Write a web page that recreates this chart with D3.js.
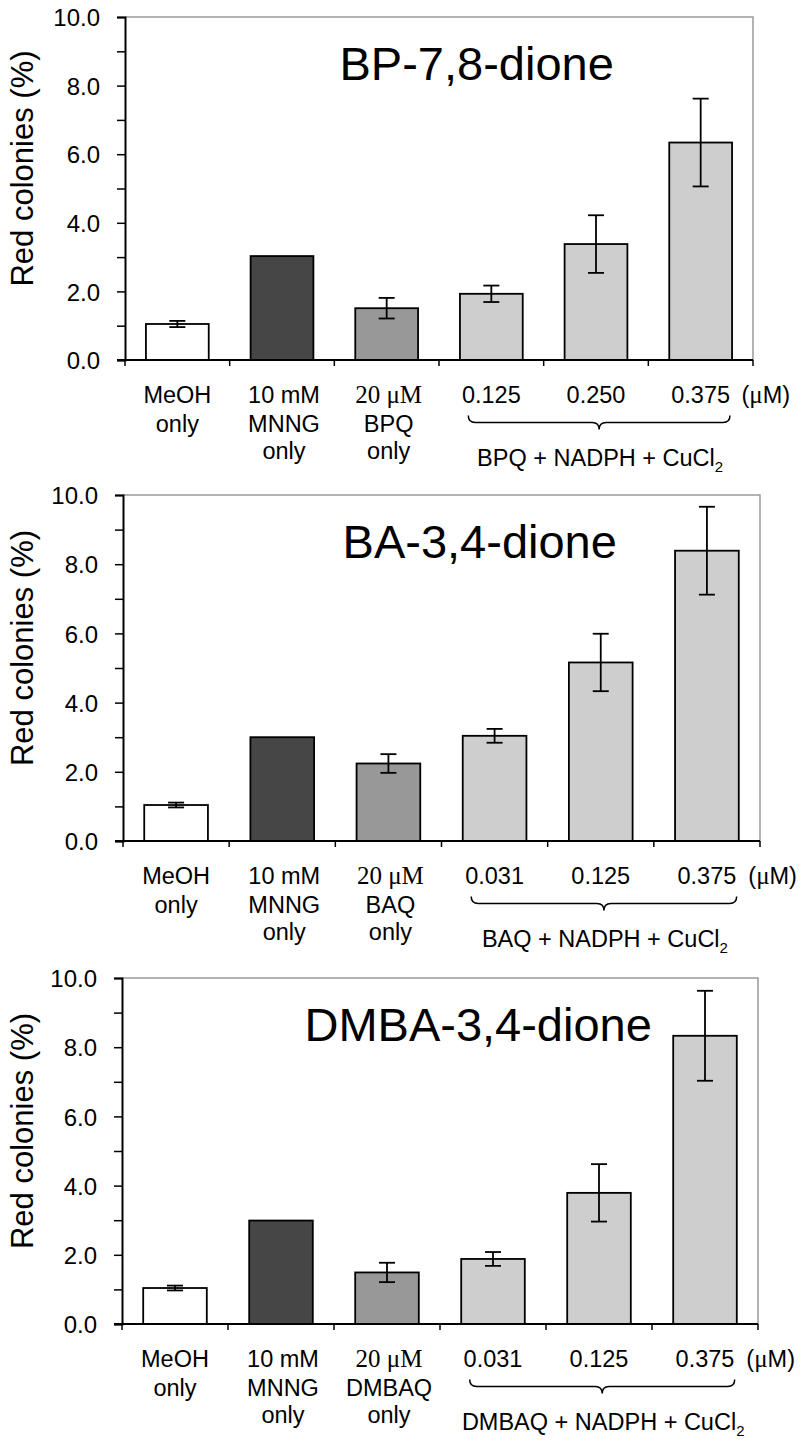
<!DOCTYPE html>
<html>
<head>
<meta charset="utf-8">
<script src="https://cdn.jsdelivr.net/npm/d3@7"></script>
<style>
  html, body { margin: 0; padding: 0; background: #fff; }
  svg { display: block; }
</style>
</head>
<body>
<svg id="chart" width="800" height="1446"></svg>
<script>
// ---------------- data ----------------
const panelTitles = ["BP-7,8-dione", "BA-3,4-dione", "DMBA-3,4-dione"];
const compounds = ["BPQ", "BAQ", "DMBAQ"];
const concLabels = [
  ["0.125", "0.250", "0.375"],
  ["0.031", "0.125", "0.375"],
  ["0.031", "0.125", "0.375"]
];
const categories = ["MeOH", "MNNG", "Q only", "dose1", "dose2", "dose3"];
const bpValues   = [1.05, 3.03, 1.51, 1.93, 3.38, 6.34];
const bpErrors   = [0.09, 0,    0.30, 0.24, 0.84, 1.28];
const baValues   = [1.04, 3.00, 2.24, 3.04, 5.16, 8.39];
const baErrors   = [0.07, 0,    0.27, 0.20, 0.83, 1.27];
const dmbaValues = [1.04, 2.99, 1.49, 1.88, 3.79, 8.33];
const dmbaErrors = [0.07, 0,    0.28, 0.20, 0.83, 1.30];
const yMajorTicks = [0, 2, 4, 6, 8, 10];
const yAllTicks = [0, 1, 2, 3, 4, 5, 6, 7, 8, 9, 10];
const yTitle = "Red colonies (%)";
const barFills = ["#ffffff", "#464646", "#989898", "#cecece", "#cecece", "#cecece"];

const valuesList = [bpValues, baValues, dmbaValues];
const errorsList = [bpErrors, baErrors, dmbaErrors];

// ---------------- layout ----------------
const layouts = [
  { x0: 125, x1: 753, top: 17,  bottom: 360 },
  { x0: 123, x1: 760, top: 495, bottom: 841 },
  { x0: 122, x1: 758, top: 978, bottom: 1324 }
];
const SANS = "'Liberation Sans', Arial, Helvetica, sans-serif";
const SERIF = "'Liberation Serif', 'Times New Roman', serif";

const svg = d3.select("#chart");

layouts.forEach((L, p) => {
  const g = svg.append("g");
  const values = valuesList[p];
  const errors = errorsList[p];

  const x = d3.scaleBand().domain(categories).range([L.x0, L.x1])
    .paddingInner(0.4).paddingOuter(0.2);
  const y = d3.scaleLinear().domain([0, 10]).range([L.bottom, L.top]);
  const step = x.step();
  const cx = c => x(c) + x.bandwidth() / 2;

  // frame (top & right, gray)
  g.append("path")
    .attr("d", `M${L.x0},${y(10)}H${L.x1}V${y(0)}`)
    .attr("fill", "none").attr("stroke", "#9a9a9a").attr("stroke-width", 1.5);

  // bars
  g.selectAll("rect.bar").data(categories).join("rect")
    .attr("class", "bar")
    .attr("x", d => x(d))
    .attr("width", x.bandwidth())
    .attr("y", (d, i) => y(values[i]))
    .attr("height", (d, i) => y(0) - y(values[i]))
    .attr("fill", (d, i) => barFills[i])
    .attr("stroke", "#000").attr("stroke-width", 1.8);

  // error bars
  const eb = categories.map((c, i) => ({ c, v: values[i], e: errors[i] })).filter(d => d.e > 0);
  const ebG = g.selectAll("g.err").data(eb).join("g").attr("class", "err")
    .attr("stroke", "#000").attr("stroke-width", 1.8).attr("fill", "none");
  ebG.append("line")
    .attr("x1", d => cx(d.c)).attr("x2", d => cx(d.c))
    .attr("y1", d => y(d.v + d.e)).attr("y2", d => y(d.v - d.e));
  ebG.append("line")
    .attr("x1", d => cx(d.c) - 8).attr("x2", d => cx(d.c) + 8)
    .attr("y1", d => y(d.v + d.e)).attr("y2", d => y(d.v + d.e));
  ebG.append("line")
    .attr("x1", d => cx(d.c) - 8).attr("x2", d => cx(d.c) + 8)
    .attr("y1", d => y(d.v - d.e)).attr("y2", d => y(d.v - d.e));

  // y axis
  const yAxis = d3.axisLeft(y).tickValues(yAllTicks).tickSize(8).tickPadding(17)
    .tickFormat(d => yMajorTicks.includes(d) ? d3.format(".1f")(d) : "");
  const ya = g.append("g").attr("transform", `translate(${L.x0},0)`).call(yAxis);
  ya.select(".domain").attr("stroke", "#000").attr("stroke-width", 2);
  ya.selectAll(".tick line").attr("stroke", "#000").attr("stroke-width", 1.5);
  ya.selectAll(".tick text").attr("font-family", SANS).attr("font-size", 24)
    .attr("fill", "#000").attr("dy", "0.36em");

  // x axis line and boundary ticks
  g.append("line").attr("x1", L.x0 - 8).attr("x2", L.x1)
    .attr("y1", y(0)).attr("y2", y(0)).attr("stroke", "#000").attr("stroke-width", 2);
  g.selectAll("line.xt").data(d3.range(categories.length + 1)).join("line")
    .attr("class", "xt")
    .attr("x1", i => L.x0 + step * i).attr("x2", i => L.x0 + step * i)
    .attr("y1", y(0)).attr("y2", y(0) + 6)
    .attr("stroke", "#000").attr("stroke-width", 1.5);

  // y title
  g.append("text")
    .attr("transform", `translate(33,${(L.top + L.bottom) / 2 - 20}) rotate(-90)`)
    .attr("text-anchor", "middle")
    .attr("font-family", SANS).attr("font-size", 31).attr("fill", "#000")
    .text(yTitle);

  // panel title
  g.append("text")
    .attr("x", L.x0 + 0.56 * (L.x1 - L.x0)).attr("y", L.top + 62.5)
    .attr("text-anchor", "middle")
    .attr("font-family", SANS).attr("font-size", 47).attr("fill", "#000")
    .text(panelTitles[p]);

  // category labels
  const b = y(0);
  const rows = [b + 43, b + 71.5, b + 98.5];
  const fs = 23.5;
  const lbl = (xx, yy, txt, fam, size) => g.append("text").attr("x", xx).attr("y", yy)
    .attr("text-anchor", "middle").attr("font-family", fam || SANS)
    .attr("font-size", size || fs).attr("fill", "#000").text(txt);

  lbl(cx(categories[0]), rows[0], "MeOH");
  lbl(cx(categories[0]), rows[1], "only");
  lbl(cx(categories[1]) + 2, rows[0], "10 mM");
  lbl(cx(categories[1]) + 2, rows[1], "MNNG");
  lbl(cx(categories[1]) + 2, rows[2], "only");
  lbl(cx(categories[2]) + 2, rows[0], "20 \u03BCM", SERIF, 25);
  lbl(cx(categories[2]) + 2, rows[1], compounds[p]);
  lbl(cx(categories[2]) + 2, rows[2], "only");
  concLabels[p].forEach((t, i) => lbl(cx(categories[3 + i]), rows[0], t));

  // (μM)
  const um = g.append("text").attr("x", cx(categories[5]) + 0.39 * step).attr("y", rows[0])
    .attr("font-family", SANS).attr("font-size", fs).attr("fill", "#000");
  um.append("tspan").text("(");
  um.append("tspan").attr("font-family", SERIF).attr("font-size", 25).text("\u03BC");
  um.append("tspan").text("M)");

  // brace
  const bl = cx(categories[3]) - 0.22 * step;
  const br = cx(categories[5]) + 0.28 * step;
  const bc = (bl + br) / 2;
  const ly = b + 62.5;
  const r = 7;
  const path = d3.path();
  path.moveTo(bl, ly - r);
  path.quadraticCurveTo(bl, ly, bl + r, ly);
  path.lineTo(bc - r, ly);
  path.quadraticCurveTo(bc, ly, bc, ly + r);
  path.quadraticCurveTo(bc, ly, bc + r, ly);
  path.lineTo(br - r, ly);
  path.quadraticCurveTo(br, ly, br, ly - r);
  g.append("path").attr("d", path.toString())
    .attr("fill", "none").attr("stroke", "#000").attr("stroke-width", 1.5);

  // combined label
  const ct = g.append("text").attr("x", bc + 1).attr("y", b + 106)
    .attr("text-anchor", "middle").attr("font-family", SANS)
    .attr("font-size", fs).attr("fill", "#000");
  ct.append("tspan").text(compounds[p] + " + NADPH + CuCl");
  ct.append("tspan").attr("font-size", 15).attr("dy", 6).text("2");
});
</script>
</body>
</html>
